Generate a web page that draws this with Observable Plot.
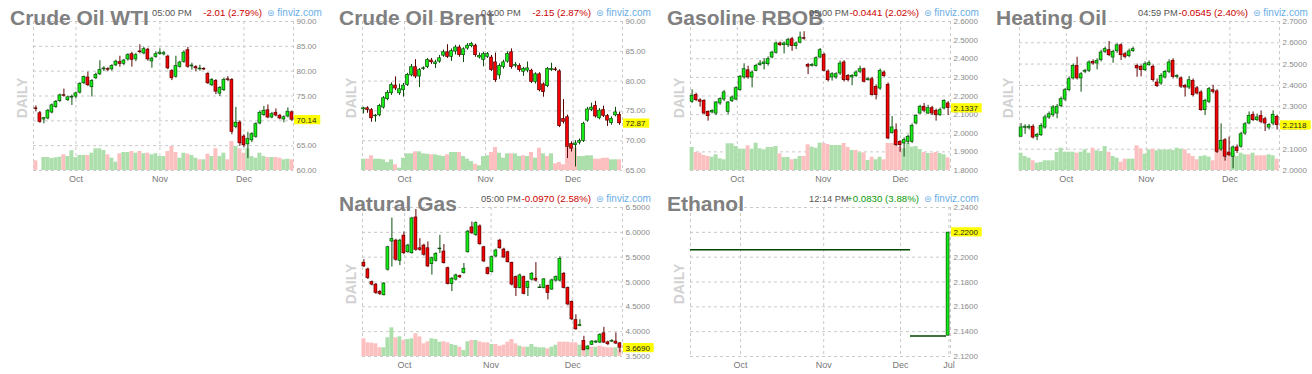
<!DOCTYPE html>
<html>
<head>
<meta charset="utf-8">
<script src="https://cdn.jsdelivr.net/npm/d3@7"></script>
<script src="https://cdn.jsdelivr.net/npm/@observablehq/plot@0.6"></script>
<style>
html,body{margin:0;padding:0;background:#fff;}
#root{position:relative;width:1312px;height:374px;overflow:hidden;font-family:"Liberation Sans",Arial,Helvetica,sans-serif;}
.panel{position:absolute;width:328px;height:186px;}
.panel svg{position:absolute;left:0;top:0;}
.ptitle{position:absolute;left:10px;top:7px;font-weight:bold;font-size:21px;line-height:21px;color:#808080;white-space:nowrap;}
.ptime{position:absolute;left:152px;top:8px;font-size:9.3px;line-height:10px;color:#555;white-space:nowrap;}
.pchg{position:absolute;right:66px;top:8px;font-size:9.7px;line-height:10px;white-space:nowrap;}
.plogo{position:absolute;left:267px;top:8px;font-size:10px;line-height:10px;color:#6aaee6;white-space:nowrap;}
.plogo span{font-family:"DejaVu Sans";font-size:9px;}
.daily{position:absolute;left:22px;top:98px;transform:translate(-50%,-50%) rotate(-90deg);font-weight:bold;font-size:14px;line-height:14px;color:#d2d2d2;}
</style>
</head>
<body>
<div id="root"></div>
<script>
// ---------------- DATA ----------------
// daily candles [open, high, low, close], oldest first
const wtiCandles = [
[72.5,73.0,71.8,72.4],[71.6,71.9,69.5,69.7],[70.2,70.7,69.4,70.6],[70.4,72.3,70.2,72.1],[71.6,73.4,71.4,73.2],
[72.7,74.1,72.5,73.9],[73.9,75.4,73.7,75.2],[75.2,76.4,74.8,75.0],[74.1,75.0,73.9,74.8],[74.6,75.2,73.1,74.9],
[74.8,75.8,74.4,75.6],[75.6,77.7,75.4,77.5],[77.5,79.0,77.3,78.9],[78.8,79.8,76.9,77.1],[76.7,78.3,74.8,78.1],
[78.5,79.6,78.3,79.3],[79.3,82.1,79.1,80.3],[80.3,80.9,79.9,80.6],[80.5,80.7,79.9,80.2],[80.3,81.3,80.0,81.1],
[81.1,82.2,80.9,82.0],[81.9,83.0,80.8,81.4],[81.4,82.4,81.1,82.2],[82.3,83.5,82.0,83.3],[83.5,83.8,80.8,82.2],
[82.3,83.6,81.9,83.3],[84.0,85.3,83.5,83.8],[83.5,84.8,83.3,84.5],[84.4,84.6,82.0,82.3],[81.9,82.8,80.6,82.6],
[82.8,83.9,82.6,83.5],[83.4,84.5,83.2,83.8],[83.3,84.0,83.1,83.7],[83.0,83.2,80.3,80.5],[80.1,80.3,78.1,78.5],
[78.8,83.0,78.6,81.1],[80.8,82.0,80.6,81.8],[81.8,84.1,81.6,83.8],[84.3,84.8,80.6,80.8],[80.9,81.6,80.2,81.2],
[80.9,81.1,79.9,80.5],[80.3,81.2,80.0,80.6],[80.5,80.7,80.1,80.3],[79.5,79.7,77.3,77.5],[77.1,78.5,76.9,78.3],
[78.1,78.3,75.3,75.8],[75.4,76.9,74.9,76.7],[76.1,78.6,75.9,78.3],[78.4,78.9,77.9,78.2],[78.3,78.5,67.2,67.7],
[68.7,72.7,68.4,69.7],[69.7,70.0,64.9,65.4],[66.9,67.2,64.6,65.0],[65.2,67.7,62.4,66.4],[66.0,67.6,65.6,67.4],
[66.7,69.6,66.5,69.4],[69.4,72.0,69.2,71.7],[71.1,72.9,70.9,72.1],[72.2,73.2,70.4,70.6],[70.6,71.7,70.4,71.4],
[71.7,72.4,70.8,71.0],[71.1,71.3,70.2,70.4],[70.2,71.0,69.6,70.8],[70.8,72.6,70.6,71.9],[71.8,72.0,69.9,70.14]
];
// relative volume (bar height), sign = up (+) / down (-) day
const wtiVolume = [
-9.7,0,13,13,12,12.7,13.3,-15.7,14,19.7, 13,15,15,-15,17.3,21.7,21.7,20,-15.7,12.3,
8.3,-16.7,18,18,-19,17.3,-19,16.7,-17.3,15.7, 16.7,14,14,-19,-24,-18,12.3,17.3,-16.3,15,
12.3,-10.7,10.7,-16.3,14,-21.7,14,17.3,-10.7,-29, 24,-21.7,-17.3,21.7,14,12.3,17.3,14,-13,13,
-13,-12.3,10.7,11.3,-10.7
];

const brentCandles = [
[75.2,75.6,74.5,75.5],[75.5,75.7,74.6,75.1],[75.2,75.4,73.1,73.7],[74.1,74.4,73.1,74.2],[74.2,76.1,74.0,75.9],
[75.5,77.4,75.3,77.2],[76.9,78.4,76.7,78.1],[77.9,79.7,77.6,79.4],[79.3,80.7,78.4,78.7],[77.9,79.5,77.6,78.7],
[78.4,79.6,77.3,79.3],[79.3,81.3,79.1,81.1],[80.9,82.8,80.7,82.4],[82.4,83.6,80.4,80.7],[80.7,82.1,78.9,81.9],
[82.0,82.4,81.8,82.2],[82.3,83.8,82.1,83.6],[83.5,83.8,82.8,83.1],[82.8,83.5,82.1,83.2],[83.2,84.3,83.0,83.9],
[84.2,85.2,84.0,84.9],[84.9,86.1,83.8,84.0],[84.0,85.4,83.3,85.1],[84.9,86.0,84.4,85.7],[85.7,86.0,84.0,84.3],
[84.3,85.6,83.1,85.4],[85.4,86.3,85.2,86.0],[85.8,86.5,85.6,86.3],[86.0,86.2,84.0,84.3],[83.9,84.7,83.7,84.3],
[83.5,84.8,82.4,84.6],[84.0,84.8,83.8,84.6],[84.0,84.3,81.6,81.8],[83.2,84.7,79.8,80.1],[80.9,82.9,80.3,82.6],
[82.3,83.5,82.0,83.2],[83.2,84.9,83.0,84.6],[84.9,85.4,82.0,82.3],[82.5,83.1,82.2,82.8],[82.6,82.9,81.5,81.8],
[81.5,82.3,80.8,82.1],[81.7,83.2,81.4,82.2],[81.8,82.0,79.6,79.8],[79.8,81.4,79.5,81.2],[81.2,81.4,78.2,78.4],
[79.5,79.7,77.3,78.1],[79.1,82.3,78.9,82.1],[81.8,83.0,81.6,82.1],[82.0,82.3,81.6,81.8],[81.7,81.9,72.2,72.4],
[73.7,76.9,72.8,73.1],[74.0,74.3,67.0,68.9],[69.5,69.8,68.1,68.6],[69.2,70.0,65.6,69.6],[69.6,70.3,69.3,70.0],
[69.9,73.1,69.7,72.9],[73.3,75.6,73.1,75.3],[75.1,76.3,74.9,75.6],[75.9,76.6,73.8,74.0],[73.7,75.4,73.5,75.1],
[75.2,75.8,73.9,74.1],[74.2,74.4,72.4,73.3],[72.9,74.0,72.6,73.7],[74.2,75.6,74.0,74.8],[74.4,74.8,72.6,72.87]
];
const brentVolume = [
11.3,-11.3,-14.7,11.3,11.3,10.7,8,10.7,-5.7,2.3, 12.3,16.7,16.7,-18.7,18.7,16.7,16.3,-15.7,15.7,14.7,
14,-15.7,18,18,-18,14,11.3,9,-6.3,4.7, 14,14.7,-18,-23,17.3,12.3,16.7,-16.7,16.7,14,
-14.7,14,-18,12.3,-22.3,16.7,-14,16.7,-6.7,-8, -5.7,-24,-24,-22.3,14,14,14.7,14.7,-11.3,-11.3,
-12.3,-12.3,10.7,10.7,-10.7
];

const rbobCandles = [
[2.167,2.233,2.160,2.203],[2.208,2.215,2.170,2.176],[2.179,2.185,2.140,2.167],[2.176,2.180,2.100,2.104],[2.117,2.120,2.065,2.090],
[2.110,2.126,2.104,2.122],[2.104,2.170,2.095,2.167],[2.158,2.190,2.150,2.185],[2.179,2.230,2.170,2.221],[2.113,2.170,2.100,2.167],
[2.170,2.200,2.165,2.194],[2.179,2.250,2.175,2.244],[2.230,2.310,2.225,2.305],[2.298,2.373,2.290,2.346],[2.340,2.360,2.290,2.298],
[2.298,2.335,2.244,2.328],[2.333,2.370,2.330,2.364],[2.364,2.390,2.360,2.376],[2.369,2.400,2.340,2.382],[2.369,2.410,2.360,2.400],
[2.405,2.440,2.400,2.435],[2.430,2.490,2.425,2.484],[2.484,2.490,2.465,2.471],[2.471,2.490,2.426,2.484],[2.471,2.510,2.460,2.502],
[2.507,2.515,2.440,2.466],[2.466,2.490,2.450,2.484],[2.484,2.543,2.480,2.516],[2.511,2.545,2.500,2.507],[2.369,2.375,2.315,2.355],
[2.360,2.375,2.355,2.369],[2.360,2.410,2.355,2.405],[2.405,2.455,2.400,2.448],[2.423,2.430,2.330,2.333],[2.333,2.340,2.275,2.283],
[2.298,2.325,2.280,2.319],[2.298,2.325,2.290,2.319],[2.319,2.387,2.310,2.376],[2.382,2.390,2.275,2.283],[2.310,2.315,2.275,2.283],
[2.298,2.315,2.255,2.310],[2.305,2.335,2.300,2.328],[2.328,2.360,2.320,2.346],[2.346,2.350,2.270,2.274],[2.283,2.300,2.280,2.292],
[2.292,2.300,2.200,2.203],[2.251,2.260,2.179,2.203],[2.238,2.345,2.230,2.337],[2.328,2.335,2.300,2.305],[2.262,2.270,1.965,1.970],
[2.000,2.090,1.995,2.033],[2.018,2.050,1.930,1.934],[1.956,1.960,1.898,1.934],[1.943,1.975,1.872,1.965],[1.952,1.990,1.940,1.983],
[1.952,2.050,1.945,2.042],[2.051,2.100,2.045,2.095],[2.104,2.150,2.100,2.144],[2.144,2.160,2.110,2.119],[2.104,2.150,2.100,2.137],
[2.137,2.145,2.095,2.104],[2.122,2.130,2.065,2.095],[2.095,2.135,2.090,2.126],[2.131,2.180,2.125,2.176],[2.162,2.170,2.095,2.1337]
];
const rbobVolume = [
23,-18,-17.3,-15,-14,13.3,15.7,11.7,10.7,26.7, 26.7,24,21.3,21.3,-24.7,21.3,27.3,21.7,20.7,23,
23,24,-16.7,13,13,-10.7,11.3,14,-14,-25.7, 23.3,22.3,27.3,-27,-26,25,25,25,-27,-23,
20,-20,17.7,-17.7,10,-13.3,10.7,13.3,-10.7,-27, -27,-25,-23.3,21.7,27,23.3,24,21,-18,17,
-17,-18,17,15.7,-12.7
];

const hoCandles = [
[2.157,2.220,2.155,2.204],[2.199,2.215,2.170,2.207],[2.199,2.215,2.190,2.207],[2.207,2.215,2.148,2.153],[2.157,2.175,2.140,2.169],
[2.164,2.220,2.160,2.211],[2.200,2.260,2.195,2.251],[2.247,2.275,2.240,2.266],[2.258,2.305,2.250,2.298],[2.266,2.310,2.243,2.301],
[2.301,2.345,2.295,2.337],[2.332,2.385,2.325,2.379],[2.376,2.440,2.370,2.431],[2.431,2.500,2.425,2.493],[2.493,2.532,2.425,2.431],
[2.431,2.460,2.368,2.454],[2.462,2.475,2.455,2.470],[2.467,2.515,2.460,2.509],[2.512,2.520,2.495,2.501],[2.501,2.525,2.473,2.517],
[2.517,2.565,2.510,2.556],[2.556,2.580,2.550,2.572],[2.567,2.606,2.535,2.540],[2.529,2.565,2.504,2.559],[2.559,2.595,2.550,2.590],
[2.590,2.595,2.517,2.540],[2.548,2.555,2.525,2.532],[2.536,2.570,2.530,2.561],[2.559,2.580,2.555,2.572],[2.493,2.500,2.438,2.478],
[2.489,2.495,2.440,2.470],[2.470,2.510,2.465,2.501],[2.493,2.515,2.490,2.506],[2.489,2.495,2.415,2.423],[2.415,2.430,2.390,2.395],
[2.407,2.455,2.400,2.446],[2.435,2.470,2.430,2.465],[2.462,2.520,2.455,2.509],[2.517,2.525,2.430,2.438],[2.438,2.450,2.430,2.446],
[2.435,2.440,2.385,2.392],[2.399,2.405,2.345,2.388],[2.388,2.442,2.380,2.426],[2.423,2.430,2.345,2.352],[2.388,2.395,2.355,2.360],
[2.368,2.375,2.278,2.282],[2.282,2.335,2.258,2.329],[2.321,2.390,2.315,2.384],[2.379,2.400,2.360,2.368],[2.373,2.380,2.080,2.086],
[2.097,2.219,2.090,2.141],[2.144,2.150,2.044,2.063],[2.086,2.157,2.065,2.071],[2.063,2.115,2.008,2.110],[2.110,2.120,2.080,2.090],
[2.110,2.180,2.105,2.172],[2.172,2.225,2.165,2.219],[2.219,2.275,2.215,2.258],[2.263,2.275,2.230,2.235],[2.235,2.265,2.230,2.251],
[2.258,2.280,2.220,2.227],[2.243,2.250,2.183,2.219],[2.200,2.220,2.190,2.216],[2.219,2.280,2.210,2.263],[2.254,2.260,2.190,2.2118]
];
const hoVolume = [
17.3,14,12.3,-9.7,7.3,8,9.7,9.7,9.7,18, 22.3,18.3,18.3,18.3,-17.3,18.3,20.7,17.3,-22.3,19.7,
19,24,-18.3,14,12.3,-8.3,-11.3,11.3,11.3,-24.7, -21.7,16.3,20.7,-21.3,19.7,20.7,20,20.7,20,22.3,
21.3,-20.7,-16.7,-14,-10.7,14,14.7,13.3,-9.7,-21.3, -24,-16.7,-17.3,17.3,14,17.3,15.7,-15.7,17.3,-14.7,
-14.7,-14.7,15.7,14.7,-11.3
];

const ngCandles = [
[5.393,5.45,5.29,5.307],[5.260,5.28,5.05,5.073],[5.007,5.02,4.92,4.940],[4.953,4.97,4.75,4.773],[4.807,4.83,4.73,4.753],
[4.727,4.99,4.72,4.973],[5.240,5.72,5.22,5.707],[5.807,6.287,5.30,5.873],[5.840,5.86,5.42,5.440],[5.420,5.86,5.33,5.840],
[5.940,6.007,5.55,5.573],[5.593,5.76,5.58,5.740],[5.573,6.30,5.56,6.287],[6.307,6.46,5.62,5.640],[5.687,5.873,5.62,5.640],
[5.740,5.76,5.52,5.540],[5.687,5.807,5.29,5.307],[5.353,5.50,5.14,5.487],[5.420,5.59,5.40,5.573],[5.660,5.94,5.573,5.673],
[5.620,5.753,5.36,5.373],[5.287,5.30,4.94,4.953],[4.953,5.09,4.807,5.073],[5.040,5.16,5.02,5.140],[5.127,5.14,5.07,5.087],
[5.173,5.373,5.16,5.273],[5.593,6.04,5.58,6.020],[6.107,6.207,5.96,5.973],[5.940,6.21,5.92,6.193],[6.127,6.15,5.74,5.753],
[5.707,5.72,5.39,5.407],[5.287,5.30,5.14,5.153],[5.193,5.52,5.18,5.507],[5.507,5.66,5.49,5.640],[5.840,5.86,5.66,5.673],
[5.660,5.68,5.47,5.487],[5.607,5.62,5.38,5.393],[5.393,5.40,4.92,4.940],[5.107,5.12,4.707,4.873],[4.873,5.16,4.86,5.140],
[5.107,5.12,4.74,4.753],[4.873,5.02,4.707,5.007],[5.040,5.19,5.02,5.173],[5.073,5.39,5.00,5.020],[4.880,4.95,4.87,4.887],
[4.873,5.07,4.86,5.060],[4.927,4.94,4.64,4.773],[4.840,5.06,4.83,5.040],[5.020,5.12,5.00,5.107],[5.020,5.507,5.00,5.473],
[5.173,5.19,4.86,4.873],[4.887,4.90,4.52,4.540],[4.607,4.62,4.22,4.240],[4.240,4.34,4.03,4.040],[4.107,4.24,4.10,4.140],
[3.820,3.907,3.61,3.620],[3.640,3.72,3.63,3.707],[3.727,3.82,3.72,3.807],[3.773,3.82,3.76,3.807],[3.773,3.96,3.76,3.940],
[3.973,4.087,3.76,3.773],[3.793,3.81,3.72,3.740],[3.793,3.84,3.78,3.820],[3.807,3.973,3.74,3.753],[3.773,3.78,3.573,3.669]
];
const ngVolume = [
-17.7,-13.7,-13.3,-12.7,-8.7,8.7,18.7,28.7,-18.7,19.7, -16,17,17.7,-22.7,-19.7,-12.7,-14.7,17.7,17,14.3,
-14.7,-13.7,12,11,-9.3,6,14.7,-16,16,-14.7, -13.7,-13.7,12,-12,-10.3,-11.3,-14.3,-17,-12.7,10.3,
-9.3,9.3,12,9.3,8.7,8.7,-7.7,9.3,11.3,-14.3, -14.3,-14.3,-13.7,-13.7,11.3,-10.3,9.3,-9.3,9.3,-10.3,
-9.3,-8.7,-8.7,8.7,-7.7
];

// Ethanol: two flat price runs then one up candle
const ethanolRunStart = [0, 55];
const ethanolRunEnd = [55, 64];
const ethanolRunPrice = [2.2060, 2.1365];
const ethanolCandle = [2.1365, 2.2200, 2.1365, 2.2200]; // open, high, low, close
const ethanolCandleAt = 64.4;

// month gridline positions (trading-day index) and labels
const monthLabels = ["Oct", "Nov", "Dec"];
const wtiMonths = [10, 31, 52];
const brentMonths = [10.25, 30.5, 52.4];
const rbobMonths = [11.3, 32.8, 52.1];
const hoMonths = [11.3, 31.3, 52.2];
const ngMonths = [10.15, 31.8, 52.2];
const ethanolMonthLabels = ["Oct", "Nov", "Dec", "Jul"];
const ethanolMonths = [12.5, 33.3, 52.5, 64.6];

// headers
const titles = ["Crude Oil WTI", "Crude Oil Brent", "Gasoline RBOB", "Heating Oil", "Natural Gas", "Ethanol"];
const times = ["05:00 PM", "04:00 PM", "05:00 PM", "04:59 PM", "05:00 PM", "12:14 PM"];
const changes = ["-2.01 (2.79%)", "-2.15 (2.87%)", "-0.0441 (2.02%)", "-0.0545 (2.40%)", "-0.0970 (2.58%)", "+0.0830 (3.88%)"];

// ---------------- STYLE ----------------
const GRID = "#c9c9c9";
const UP_FILL = "#14ec14", UP_LINE = "#0b4f0b";
const DN_FILL = "#f40000", DN_LINE = "#5e0000";
const VOL_UP = "#addfad", VOL_DN = "#fcc0c0";
const W = 328, H = 186, ML = 33, MR = 35, MT = 21, MB = 16;
const PLOT_H = H - MT - MB;   // 149
const SPAN = 65;              // trading days shown

const root = document.getElementById("root");

function header(panel, k) {
  const t = document.createElement("div"); t.className = "ptitle"; t.textContent = titles[k]; panel.appendChild(t);
  const tm = document.createElement("div"); tm.className = "ptime"; tm.textContent = times[k]; panel.appendChild(tm);
  const ch = document.createElement("div"); ch.className = "pchg"; ch.textContent = changes[k];
  ch.style.color = changes[k].startsWith("+") ? "#0a9a0a" : "#cc0000"; panel.appendChild(ch);
  const lg = document.createElement("div"); lg.className = "plogo"; lg.innerHTML = "<span>\u229C</span> finviz.com"; panel.appendChild(lg);
  const d = document.createElement("div"); d.className = "daily"; d.textContent = "DAILY"; panel.appendChild(d);
}

function makePanel(left, top) {
  const p = document.createElement("div");
  p.className = "panel"; p.style.left = left + "px"; p.style.top = top + "px";
  root.appendChild(p);
  return p;
}

function gridMarks(cfg, yTicks) {
  const x1 = cfg.x0 + SPAN;
  return [
    Plot.ruleY(yTicks, {stroke: GRID, strokeDasharray: "3,3"}),
    Plot.ruleX([cfg.x0, x1, ...cfg.months], {stroke: GRID, strokeDasharray: "3,3"})
  ];
}

// candle: dark outer body, bright inner body, dark wick
function candleMarks(cs, unit) {
  const lo = d => Math.min(d.o, d.c), hi = d => Math.max(d.o, d.c);
  const pad = d => Math.max(0, (1.4 * unit - (hi(d) - lo(d))) / 2);
  return [
    Plot.ruleX(cs, {x: "i", y1: "l", y2: "h", stroke: d => d.up ? UP_LINE : DN_LINE, strokeWidth: 1}),
    Plot.rect(cs, {x1: d => d.i - 0.45, x2: d => d.i + 0.45,
      y1: d => lo(d) - pad(d), y2: d => hi(d) + pad(d), fill: d => d.up ? UP_LINE : DN_LINE}),
    Plot.rect(cs, {x1: d => d.i - 0.45, x2: d => d.i + 0.45,
      y1: lo, y2: hi, inset: 0.7, fill: d => d.up ? UP_FILL : DN_FILL})
  ];
}

function labelMarks(cfg, fmt, yTicks, last) {
  const x1 = cfg.x0 + SPAN;
  const unit = (cfg.yMax - cfg.yMin) / PLOT_H;
  const lbl = fmt(last);
  const boxW = (lbl.length * 4.45 + 4) / 4;
  const months = cfg.months.map((m, k) => ({m, t: cfg.labels[k]}));
  return [
    Plot.text(yTicks, {x: x1, y: d => d, text: d => fmt(d), textAnchor: "start", dx: 3, fontSize: 8, fill: "#8a8a8a"}),
    Plot.text(months, {x: "m", y: cfg.yMin, text: "t", dy: 9, fontSize: 9, fill: "#777"}),
    Plot.rect([last], {x1: x1 + 0.25, x2: x1 + 0.25 + boxW, y1: d => d - 4.6 * unit, y2: d => d + 4.6 * unit, fill: "#ffff00"}),
    Plot.text([last], {x: x1, y: d => d, text: () => lbl, textAnchor: "start", dx: 3, fontSize: 8, fill: "#222"})
  ];
}

function plotOpts(cfg, marks) {
  return {
    width: W, height: H, marginLeft: ML, marginRight: MR, marginTop: MT, marginBottom: MB,
    x: {domain: [cfg.x0, cfg.x0 + SPAN], axis: null},
    y: {domain: [cfg.yMin, cfg.yMax], axis: null},
    color: {type: "identity"},
    style: {background: "transparent", fontFamily: "Liberation Sans, Arial, sans-serif", overflow: "visible"},
    marks
  };
}

function ticksFor(cfg) {
  const n = Math.round((cfg.yMax - cfg.yMin) / cfg.yStep);
  return d3.range(n + 1).map(j => +(cfg.yMin + j * cfg.yStep).toFixed(6));
}

function drawCandlePanel(cfg, k) {
  const panel = makePanel(cfg.left, cfg.top);
  const unit = (cfg.yMax - cfg.yMin) / PLOT_H;
  const yTicks = ticksFor(cfg);
  const fmt = d3.format(cfg.fmt);
  const cs = cfg.candles.map(([o, h, l, c], i) => ({i, o, h, l, c, up: c >= o}));
  const vs = cfg.volume.map((v, i) => ({i, v: Math.abs(v), up: v >= 0}));
  const svg = Plot.plot(plotOpts(cfg, [
    ...gridMarks(cfg, yTicks),
    Plot.rect(vs, {x1: d => d.i - 0.5, x2: d => d.i + 0.5, y1: cfg.yMin, y2: d => cfg.yMin + d.v * unit,
      fill: d => d.up ? VOL_UP : VOL_DN}),
    ...candleMarks(cs, unit),
    ...labelMarks(cfg, fmt, yTicks, cs[cs.length - 1].c)
  ]));
  panel.appendChild(svg);
  header(panel, k);
}

function drawEthanol(cfg, k) {
  const panel = makePanel(cfg.left, cfg.top);
  const unit = (cfg.yMax - cfg.yMin) / PLOT_H;
  const yTicks = ticksFor(cfg);
  const fmt = d3.format(cfg.fmt);
  const runs = ethanolRunPrice.map((p, j) => ({a: ethanolRunStart[j], b: ethanolRunEnd[j], p}));
  const [o, h, l, c] = ethanolCandle;
  const cd = [{i: ethanolCandleAt, o, h, l, c, up: c >= o}];
  const svg = Plot.plot(plotOpts(cfg, [
    ...gridMarks(cfg, yTicks),
    Plot.ruleY(runs, {x1: "a", x2: "b", y: "p", stroke: "#004400", strokeWidth: 1.6}),
    ...candleMarks(cd, unit),
    ...labelMarks(cfg, fmt, yTicks, c)
  ]));
  panel.appendChild(svg);
  header(panel, k);
}

const cfgs = [
  {left: 0,   top: 0,   yMin: 60,  yMax: 90,  yStep: 5,   fmt: ".2f", x0: -0.6,  months: wtiMonths,   labels: monthLabels, candles: wtiCandles,   volume: wtiVolume},
  {left: 329, top: 0,   yMin: 65,  yMax: 90,  yStep: 5,   fmt: ".2f", x0: -0.25, months: brentMonths, labels: monthLabels, candles: brentCandles, volume: brentVolume},
  {left: 657, top: 0,   yMin: 1.8, yMax: 2.6, yStep: 0.1, fmt: ".4f", x0: -0.4,  months: rbobMonths,  labels: monthLabels, candles: rbobCandles,  volume: rbobVolume},
  {left: 986, top: 0,   yMin: 2.0, yMax: 2.7, yStep: 0.1, fmt: ".4f", x0: -0.4,  months: hoMonths,    labels: monthLabels, candles: hoCandles,    volume: hoVolume},
  {left: 329, top: 186, yMin: 3.5, yMax: 6.5, yStep: 0.5, fmt: ".4f", x0: -0.35, months: ngMonths,    labels: monthLabels, candles: ngCandles,    volume: ngVolume}
];
cfgs.forEach((c, k) => drawCandlePanel(c, k));
drawEthanol({left: 657, top: 186, yMin: 2.12, yMax: 2.24, yStep: 0.02, fmt: ".4f", x0: 0, months: ethanolMonths, labels: ethanolMonthLabels}, 5);
</script>
</body>
</html>
